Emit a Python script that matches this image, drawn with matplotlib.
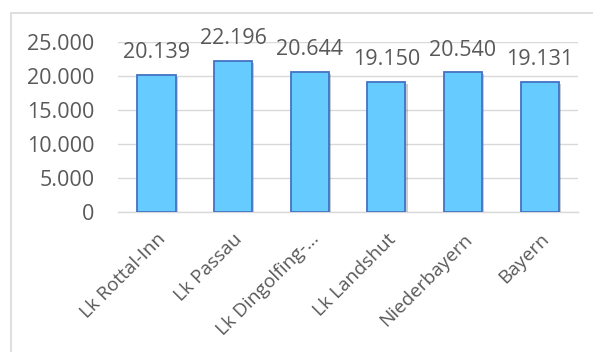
import matplotlib
matplotlib.use("Agg")
import matplotlib.pyplot as plt
import matplotlib.patheffects as pe
from matplotlib.patches import Rectangle

categories = ["Lk Rottal-Inn", "Lk Passau", "Lk Dingolfing-\u2026", "Lk Landshut", "Niederbayern", "Bayern"]
values = [20139, 22196, 20644, 19150, 20540, 19131]
yticks = [0, 5000, 10000, 15000, 20000, 25000]

def de_fmt(v):
    return f"{v:,.0f}".replace(",", ".")

plt.rcParams["font.family"] = ["Open Sans", "DejaVu Sans"]
text_color = "#595959"
grid_color = "#D9D9D9"

fig = plt.figure(figsize=(5.93, 3.52), dpi=100)
fig.patch.set_facecolor("white")

# chart frame (only left and top edges fall inside the canvas)
frame = Rectangle((11 / 593, -0.5), 2.0, 1.5 - 13 / 352,
                  transform=fig.transFigure, fill=False,
                  edgecolor=grid_color, linewidth=1.2, clip_on=False)
fig.add_artist(frame)

ax = fig.add_axes([118 / 593, 1 - 212 / 352, (578 - 118) / 593, (212 - 42) / 352])
x = range(len(categories))
bars = ax.bar(x, values, width=0.5, color="#66CCFF", edgecolor="#4472C4",
              linewidth=1.3, zorder=3)
for b in bars:
    b.set_path_effects([pe.SimplePatchShadow(offset=(1.5, -1.5), alpha=0.25), pe.Normal()])

for xi, v in zip(x, values):
    ax.annotate(de_fmt(v), (xi, v), xytext=(0, 12), textcoords="offset points",
                ha="center", va="baseline", fontsize=15.5, color=text_color)

ax.set_ylim(0, 25000)
ax.set_xlim(-0.5, len(categories) - 0.5)
ax.set_yticks(yticks)
ax.set_yticklabels([de_fmt(t) for t in yticks], fontsize=15.5, color=text_color)
ax.set_xticks(list(x))
ax.set_xticklabels(categories, rotation=45, ha="right", va="top",
                   rotation_mode="anchor", fontsize=13.8, color=text_color)
ax.tick_params(axis="y", length=0, pad=17)
ax.tick_params(axis="x", length=0, pad=13)
ax.yaxis.grid(True, color=grid_color, linewidth=1, zorder=0)
for s in ["top", "right", "left"]:
    ax.spines[s].set_visible(False)
ax.spines["bottom"].set_color(grid_color)
ax.spines["bottom"].set_linewidth(1)
ax.set_axisbelow(True)

fig.savefig("out.png", dpi=100, facecolor="white")
